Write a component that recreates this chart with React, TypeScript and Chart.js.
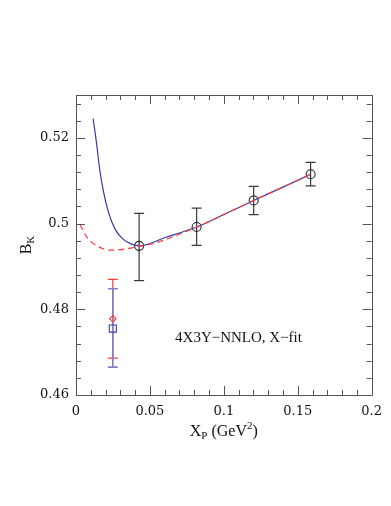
import React, { useEffect, useRef } from "react";
import { Chart, registerables } from "chart.js";

Chart.register(...registerables);

// ---- data ----
const dataX = [0.0427, 0.0816, 0.1202, 0.1587];
const dataY = [0.4948, 0.4992, 0.5054, 0.5115];
const dataErrLo = [0.4867, 0.4949, 0.5021, 0.5088];
const dataErrHi = [0.5024, 0.5036, 0.5087, 0.5143];

const blueX = [0.0249];
const blueY = [0.4755];
const blueErrLo = [0.4665];
const blueErrHi = [0.4848];

const redX = [0.0249];
const redY = [0.4778];
const redErrLo = [0.4686];
const redErrHi = [0.487];

const fitBlueX = [0.0116, 0.0138, 0.016, 0.0187, 0.022, 0.0264, 0.032, 0.0376, 0.0431, 0.06, 0.0816, 0.1, 0.1202, 0.14, 0.1587];
const fitBlueY = [0.5245, 0.519, 0.5127, 0.5073, 0.5026, 0.4987, 0.4963, 0.4952, 0.4948, 0.4967, 0.4992, 0.5021, 0.5054, 0.5085, 0.5115];

const fitRedX = [0.0027, 0.0076, 0.0142, 0.0231, 0.032, 0.0431, 0.052, 0.0816, 0.1, 0.1202, 0.14, 0.1587];
const fitRedY = [0.4998, 0.4967, 0.4948, 0.4938, 0.494, 0.4947, 0.4953, 0.4992, 0.5021, 0.5054, 0.5085, 0.5115];

const xMajorTicks = [0, 0.05, 0.1, 0.15, 0.2];
const xTickLabels = ["0", "0.05", "0.1", "0.15", "0.2"];
const xMinorStep = 0.01;
const yMajorTicks = [0.46, 0.48, 0.5, 0.52];
const yTickLabels = ["0.46", "0.48", "0.5", "0.52"];
const yMinorStep = 0.004;
const xMin = 0, xMax = 0.2, yMin = 0.46, yMax = 0.53;

const annotation = "4X3Y\u2212NNLO, X\u2212fit";
const annotX = 0.067;
const annotY = 0.4732;

const BLUE = "#3a3aa6";
const RED = "#ff3a3a";
const SERIF = "'Liberation Serif', 'Times New Roman', serif";
const TICKFONT = "'DejaVu Serif', serif";

const pts = (xs: number[], ys: number[]) => xs.map((x, i) => ({ x, y: ys[i] }));

const framePlugin = {
  id: "framePlugin",
  beforeDatasetsDraw(chart: any) {
    const { ctx } = chart;
    const xs = chart.scales.x;
    const ys = chart.scales.y;
    const bar = (xv: number, lo: number, hi: number, color: string, w: number, cap: number) => {
      const px = xs.getPixelForValue(xv);
      const pLo = ys.getPixelForValue(lo);
      const pHi = ys.getPixelForValue(hi);
      ctx.save();
      ctx.strokeStyle = color;
      ctx.lineWidth = w;
      ctx.beginPath();
      ctx.moveTo(px, pLo);
      ctx.lineTo(px, pHi);
      ctx.moveTo(px - cap, pLo);
      ctx.lineTo(px + cap, pLo);
      ctx.moveTo(px - cap, pHi);
      ctx.lineTo(px + cap, pHi);
      ctx.stroke();
      ctx.restore();
    };
    dataX.forEach((x, i) => bar(x, dataErrLo[i], dataErrHi[i], "#3a3a3a", 1.2, 5));
    redX.forEach((x, i) => bar(x, redErrLo[i], redErrHi[i], RED, 1.2, 5));
    blueX.forEach((x, i) => bar(x, blueErrLo[i], blueErrHi[i], "#8080c8", 1.6, 5));
  },
  afterDraw(chart: any) {
    const { ctx, chartArea: a } = chart;
    const xs = chart.scales.x;
    const ys = chart.scales.y;
    ctx.save();
    ctx.strokeStyle = "#555";
    ctx.lineWidth = 1;
    ctx.beginPath();
    ctx.rect(Math.round(a.left) + 0.5, Math.round(a.top) + 0.5, Math.round(a.right - a.left), Math.round(a.bottom - a.top));
    ctx.stroke();
    ctx.beginPath();
    const nx = Math.round((xMax - xMin) / xMinorStep);
    for (let i = 0; i <= nx; i++) {
      const v = xMin + i * xMinorStep;
      const major = xMajorTicks.some((m) => Math.abs(m - v) < 1e-9);
      const len = major ? 9 : 5;
      const px = Math.round(xs.getPixelForValue(v)) + 0.5;
      ctx.moveTo(px, a.bottom);
      ctx.lineTo(px, a.bottom - len);
      ctx.moveTo(px, a.top);
      ctx.lineTo(px, a.top + len);
    }
    const ny = Math.round((yMax - yMin) / yMinorStep);
    for (let i = 0; i <= ny; i++) {
      const v = yMin + i * yMinorStep;
      if (v > yMax + 1e-9) break;
      const major = yMajorTicks.some((m) => Math.abs(m - v) < 1e-9);
      const len = major ? 9 : 5;
      const py = Math.round(ys.getPixelForValue(v)) + 0.5;
      ctx.moveTo(a.left, py);
      ctx.lineTo(a.left + len, py);
      ctx.moveTo(a.right, py);
      ctx.lineTo(a.right - len, py);
    }
    ctx.stroke();

    // annotation
    ctx.fillStyle = "#111";
    ctx.font = `15px ${SERIF}`;
    ctx.textAlign = "left";
    ctx.textBaseline = "middle";
    ctx.fillText(annotation, xs.getPixelForValue(annotX), ys.getPixelForValue(annotY));

    // x-axis title: X_P (GeV^2)
    const cx = (a.left + a.right) / 2;
    ctx.font = `16px ${SERIF}`;
    ctx.textBaseline = "alphabetic";
    const base = 436;
    const wX = ctx.measureText("X").width;
    ctx.font = `11px ${SERIF}`;
    const wP = ctx.measureText("P").width;
    ctx.font = `16px ${SERIF}`;
    const wMid = ctx.measureText(" (GeV").width;
    ctx.font = `11px ${SERIF}`;
    const w2 = ctx.measureText("2").width;
    ctx.font = `16px ${SERIF}`;
    const wEnd = ctx.measureText(")").width;
    const total = wX + wP + wMid + w2 + wEnd;
    let x0 = cx - total / 2;
    ctx.fillText("X", x0, base);
    x0 += wX;
    ctx.font = `11px ${SERIF}`;
    ctx.fillText("P", x0, base + 3);
    x0 += wP;
    ctx.font = `16px ${SERIF}`;
    ctx.fillText(" (GeV", x0, base);
    x0 += wMid;
    ctx.font = `11px ${SERIF}`;
    ctx.fillText("2", x0, base - 7);
    x0 += w2;
    ctx.font = `16px ${SERIF}`;
    ctx.fillText(")", x0, base);

    // y-axis title: B_K rotated
    const cy = (a.top + a.bottom) / 2;
    ctx.save();
    ctx.translate(31, cy);
    ctx.rotate(-Math.PI / 2);
    ctx.font = `16px ${SERIF}`;
    const wB = ctx.measureText("B").width;
    ctx.font = `11px ${SERIF}`;
    const wK = ctx.measureText("K").width;
    const tot2 = wB + wK;
    ctx.font = `16px ${SERIF}`;
    ctx.fillText("B", -tot2 / 2, 0);
    ctx.font = `11px ${SERIF}`;
    ctx.fillText("K", -tot2 / 2 + wB, 3);
    ctx.restore();
    ctx.restore();
  },
};

export default function App() {
  const ref = useRef<HTMLCanvasElement | null>(null);
  useEffect(() => {
    if (!ref.current) return;
    const chart = new Chart(ref.current, {
      type: "scatter",
      data: {
        datasets: [
          {
            type: "line",
            data: pts(fitRedX, fitRedY),
            borderColor: RED,
            borderWidth: 1.2,
            borderDash: [6, 4],
            pointRadius: 0,
            cubicInterpolationMode: "monotone",
            fill: false,
          } as any,
          {
            type: "line",
            data: pts(fitBlueX, fitBlueY),
            borderColor: BLUE,
            borderWidth: 1.2,
            pointRadius: 0,
            cubicInterpolationMode: "monotone",
            fill: false,
          } as any,
          {
            data: pts(dataX, dataY),
            pointStyle: "circle",
            pointRadius: 4.5,
            pointBorderColor: "#222",
            pointBackgroundColor: "rgba(0,0,0,0)",
            pointBorderWidth: 1.1,
          },
          {
            data: pts(redX, redY),
            pointStyle: "rectRot",
            pointRadius: 3.2,
            pointBorderColor: RED,
            pointBackgroundColor: "rgba(0,0,0,0)",
            pointBorderWidth: 1.1,
          },
          {
            data: pts(blueX, blueY),
            pointStyle: "rect",
            pointRadius: 5,
            pointBorderColor: BLUE,
            pointBackgroundColor: "rgba(0,0,0,0)",
            pointBorderWidth: 1.1,
          },
        ],
      },
      options: {
        responsive: false,
        animation: false,
        events: [],
        layout: { padding: { left: 0, top: 95, right: 15, bottom: 0 } },
        plugins: { legend: { display: false }, tooltip: { enabled: false } },
        scales: {
          x: {
            type: "linear",
            min: xMin,
            max: xMax,
            grid: { display: false, drawTicks: false },
            border: { display: false },
            afterFit: (s: any) => { s.height = 111; },
            afterBuildTicks: (s: any) => { s.ticks = xMajorTicks.map((v) => ({ value: v })); },
            ticks: {
              padding: 9,
              color: "#111",
              font: { family: TICKFONT, size: 13 },
              maxRotation: 0,
              callback: (v: any) => {
                const i = xMajorTicks.findIndex((m) => Math.abs(m - Number(v)) < 1e-9);
                return i >= 0 ? xTickLabels[i] : "";
              },
            },
          },
          y: {
            type: "linear",
            min: yMin,
            max: yMax,
            grid: { display: false, drawTicks: false },
            border: { display: false },
            afterFit: (s: any) => { s.width = 76; },
            afterBuildTicks: (s: any) => { s.ticks = yMajorTicks.map((v) => ({ value: v })); },
            ticks: {
              padding: 7,
              color: "#111",
              font: { family: TICKFONT, size: 13 },
              callback: (v: any) => {
                const i = yMajorTicks.findIndex((m) => Math.abs(m - Number(v)) < 1e-9);
                return i >= 0 ? yTickLabels[i] : "";
              },
            },
          },
        },
      },
      plugins: [framePlugin],
    });
    return () => chart.destroy();
  }, []);
  return (
    <div style={{ position: "absolute", left: 0, top: 0, width: 391, height: 506, background: "#fff" }}>
      <canvas ref={ref} width={391} height={506} style={{ display: "block" }} />
    </div>
  );
}
